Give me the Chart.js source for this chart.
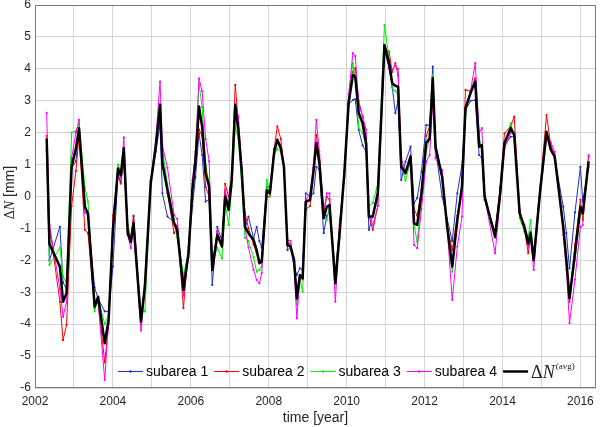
<!DOCTYPE html>
<html>
<head>
<meta charset="utf-8">
<script src="https://cdn.jsdelivr.net/npm/chart.js@4.4.1/dist/chart.umd.min.js"></script>
<style>
html,body{margin:0;padding:0;background:#fff;}
#wrap{width:600px;height:427px;position:relative;}
</style>
</head>
<body>
<div id="wrap"><canvas id="c" width="600" height="427"></canvas></div>
<script>
// ---- data (decimal years) ----
const years = [
 2002.30, 2002.37, 2002.64, 2002.72, 2002.81, 2002.94,
 2003.05, 2003.13, 2003.28, 2003.36, 2003.53, 2003.62, 2003.79, 2003.89,
 2004.00, 2004.13, 2004.20, 2004.28, 2004.38, 2004.46, 2004.53, 2004.72, 2004.82, 2004.97,
 2005.10, 2005.21, 2005.27, 2005.40, 2005.57, 2005.65, 2005.81, 2005.94,
 2006.04, 2006.12, 2006.21, 2006.29, 2006.38, 2006.47, 2006.55, 2006.68, 2006.80, 2006.88, 2006.97,
 2007.05, 2007.14, 2007.22, 2007.31, 2007.39, 2007.48, 2007.61, 2007.69, 2007.76, 2007.82, 2007.95,
 2008.03, 2008.14, 2008.22, 2008.31, 2008.39, 2008.48, 2008.56, 2008.65, 2008.72, 2008.80, 2008.87, 2008.95,
 2009.06, 2009.15, 2009.22, 2009.30, 2009.41, 2009.49, 2009.56, 2009.71, 2009.82, 2009.94,
 2010.05, 2010.16, 2010.22, 2010.31, 2010.41, 2010.50, 2010.57, 2010.67, 2010.80, 2010.97,
 2011.09, 2011.17, 2011.25, 2011.32, 2011.40, 2011.51, 2011.64, 2011.73, 2011.81, 2011.92,
 2012.04, 2012.13, 2012.21, 2012.28, 2012.45, 2012.58, 2012.71, 2012.84, 2012.96,
 2013.05, 2013.18, 2013.30, 2013.40, 2013.47, 2013.54, 2013.81, 2013.94,
 2014.05, 2014.21, 2014.30, 2014.44, 2014.56, 2014.66, 2014.72, 2014.80, 2014.96,
 2015.13, 2015.24, 2015.34, 2015.56, 2015.64, 2015.72, 2015.86,
 2016.00, 2016.06, 2016.21
];
const avgN = [
 1.82, -1.49, -2.20, -3.30, -3.03, 0.93,
 1.50, 2.14, -0.32, -0.53, -3.45, -3.14, -4.60, -3.87,
 -1.05, 0.88, 0.67, 1.51, -1.15, -1.42, -0.84, -3.92, -2.83, 0.41,
 1.56, 2.87, 1.04, 0.20, -0.84, -1.05, -2.93, -1.78,
 0.20, 1.14, 2.82, 2.19, 0.73, 0.31, -2.30, -1.21, -1.57, 0.00, -0.42,
 0.52, 2.87, 2.08, 0.73, -0.95, -1.15, -1.36, -1.68, -2.09, -2.04, 0.20,
 0.10, 1.40, 1.77, 1.51, 0.93, -1.52, -1.57, -1.99, -3.19, -2.46, -2.56, -0.16,
 -0.11, 0.80, 1.67, 1.04, -0.68, -0.32, -0.27, -2.72, -1.15, 0.73,
 2.92, 3.81, 3.76, 2.61, 2.29, 1.67, -0.63, -0.63, 0.10, 4.75,
 4.18, 3.55, 3.47, 3.44, 0.93, 0.73, 1.25, -0.84, -0.89, 0.10,
 1.67, 1.82, 3.71, 1.56, 0.62, -0.95, -2.20, -0.74, 0.31,
 2.77, 3.24, 3.60, 1.56, 1.61, 0.00, -1.26, 0.10,
 1.67, 2.14, 1.93, -0.53, -0.95, -1.47, -1.15, -1.99, 0.10,
 2.03, 1.46, 1.25, -0.95, -2.00, -3.19, -1.78,
 -0.32, -0.53, 1.09
];
const sub1 = [
 1.40, -2.00, -0.95, -2.70, -2.90, 0.90,
 1.10, 2.10, -0.30, -0.60, -2.85, -3.20, -3.60, -3.60,
 -2.20, 0.70, 0.45, 1.00, -1.05, -1.30, -0.63, -3.80, -2.80, 0.50,
 1.40, 2.24, 0.10, -0.63, -0.80, -1.00, -2.60, -1.70,
 -0.30, 0.60, 1.98, 1.30, -0.16, -0.10, -2.77, -0.95, -1.40, 0.10, -0.30,
 0.60, 2.80, 2.00, 0.60, -1.00, -0.63, -1.31, -0.95, -1.40, -1.60, 0.30,
 0.30, 1.50, 1.70, 1.50, 0.90, -1.68, -1.60, -2.20, -2.46, -2.25, -2.30, 0.10,
 0.00, 0.10, 0.93, 0.85, -1.15, -0.60, -0.50, -2.40, -0.90, 0.60,
 2.90, 3.02, 3.05, 2.08, 1.60, 1.40, -1.05, -0.60, 0.20, 4.60,
 4.00, 3.44, 2.61, 3.00, 0.52, 1.09, 1.56, -0.21, -0.05, 0.78,
 2.24, 2.24, 4.07, 1.50, 0.00, -0.70, -1.40, 0.10, 0.99,
 2.70, 3.00, 3.02, 1.30, 1.20, -0.10, -1.10, 0.20,
 1.60, 1.87, 1.90, -0.50, -0.90, -1.30, -1.10, -1.80, 0.10,
 2.00, 1.50, 1.20, -0.32, -1.15, -2.25, -0.50,
 0.93, -0.16, 0.93
];
const sub2 = [
 1.90, -0.90, -3.30, -4.50, -4.03, -0.30,
 0.80, 1.90, -1.05, -1.15, -3.50, -3.30, -5.20, -4.00,
 -0.60, 0.70, 0.40, 1.40, -0.90, -1.30, -0.60, -4.00, -2.60, 0.45,
 1.60, 2.90, 1.20, 0.10, -1.15, -0.90, -3.50, -1.60,
 0.40, 1.00, 2.10, 1.90, 0.30, 0.00, -2.20, -1.10, -1.50, 0.40, 0.00,
 0.70, 3.50, 2.30, 0.70, -0.50, -1.00, -1.50, -1.80, -2.00, -2.00, 0.00,
 0.00, 1.50, 2.20, 1.80, 0.90, -1.45, -1.50, -2.00, -3.10, -2.50, -2.60, -0.40,
 -0.30, 0.90, 1.93, 1.30, -0.50, 0.00, -0.10, -2.60, -0.90, 0.70,
 3.00, 3.90, 4.02, 3.00, 2.50, 1.80, -0.60, -1.05, -0.30, 4.60,
 4.54, 3.90, 4.18, 3.80, 1.00, 0.80, 1.20, -0.40, -0.60, 0.20,
 1.90, 2.20, 3.60, 1.60, 0.60, -0.90, -1.68, -0.60, 0.30,
 3.34, 3.30, 3.70, 1.70, 1.60, 0.00, -1.20, 0.30,
 1.98, 2.20, 2.50, -0.40, -1.00, -1.78, -1.30, -2.00, 0.20,
 2.55, 1.60, 1.30, -1.00, -2.00, -3.30, -1.50,
 -0.10, -0.74, 1.25
];
const sub3 = [
 1.50, -2.15, -1.60, -2.50, -2.70, 2.00,
 2.05, 2.30, 0.30, -0.16, -3.60, -3.20, -4.00, -3.70,
 -1.00, 1.00, 0.80, 1.50, -1.00, -1.40, -0.90, -3.60, -3.60, 0.30,
 1.50, 2.90, 1.50, 0.40, -0.70, -1.30, -2.45, -1.80,
 0.10, 1.40, 3.55, 2.80, 1.00, 0.40, -2.10, -1.60, -1.94, -0.20, -0.89,
 0.30, 2.20, 1.80, 0.30, -1.30, -1.40, -1.90, -2.36, -2.30, -2.20, 0.52,
 0.00, 1.30, 1.50, 1.40, 0.90, -1.50, -1.60, -2.00, -3.40, -2.60, -2.98, -0.20,
 -0.10, 0.90, 1.70, 1.10, -0.60, -0.74, -0.30, -2.60, -1.30, 0.80,
 3.00, 4.18, 3.70, 2.14, 2.00, 1.50, -0.30, -0.20, 0.41, 5.38,
 4.30, 3.40, 3.30, 3.20, 1.00, 0.50, 1.10, -0.90, -1.42, -0.10,
 1.40, 1.80, 3.80, 1.70, 0.60, -0.90, -2.36, -0.80, 0.30,
 2.60, 3.30, 3.60, 1.90, 1.40, 0.10, -1.30, 0.10,
 1.60, 2.30, 1.90, -0.68, -1.10, -1.30, -0.74, -2.00, 0.30,
 2.00, 1.50, 1.20, -1.00, -2.00, -3.20, -2.00,
 -0.50, -0.50, 1.10
];
const sub4 = [
 2.62, -0.90, -2.90, -3.77, -3.30, 1.20,
 2.00, 2.40, -0.50, -0.60, -3.30, -3.30, -5.75, -3.90,
 -0.80, 0.80, 0.60, 1.85, -1.20, -1.62, -1.00, -4.20, -2.90, 0.50,
 1.80, 3.60, 1.60, 0.90, -0.58, -0.70, -3.10, -1.90,
 0.50, 1.40, 3.70, 3.30, 1.80, 1.10, -2.10, -1.10, -1.50, 0.20, -0.30,
 0.60, 2.90, 2.50, 0.90, -1.00, -1.60, -2.30, -2.62, -2.72, -2.40, 0.20,
 0.10, 1.40, 1.80, 1.60, 0.90, -1.36, -1.40, -2.20, -3.82, -2.60, -2.50, -0.10,
 0.10, 1.00, 2.40, 1.40, -0.50, 0.10, 0.10, -3.30, -0.80, 0.80,
 3.20, 4.49, 4.40, 2.90, 2.50, 2.10, -0.50, -0.90, -0.30, 4.70,
 4.20, 3.97, 4.10, 4.00, 1.20, 0.80, 1.30, -1.52, -1.62, -0.40,
 1.09, 1.30, 3.00, 1.20, 0.83, -1.00, -3.24, -1.57, -0.63,
 2.80, 3.30, 4.18, 2.00, 2.14, 0.00, -1.78, -0.10,
 1.50, 2.00, 2.00, -0.50, -0.90, -1.60, -1.20, -2.30, 0.00,
 1.80, 1.70, 1.40, -1.20, -2.30, -3.97, -2.60,
 -0.95, -0.90, 1.30
];
const seriesLabels = ['subarea 1', 'subarea 2', 'subarea 3', 'subarea 4', 'ΔN(avg)'];
const xTickLabels = [2002, 2004, 2006, 2008, 2010, 2012, 2014, 2016];
const yTickValues = [-6, -5, -4, -3, -2, -1, 0, 1, 2, 3, 4, 5, 6];

const pts = arr => arr.map((v, i) => ({x: years[i], y: v}));
const SANS = '"Liberation Sans", Arial, Helvetica, sans-serif';
const SERIF = '"Liberation Serif", "Times New Roman", serif';
const colors = ['#1c2fd0', '#ff0000', '#00ee00', '#ff00ff', '#000000'];

function sub(label, data, color, order) {
  return {label, data: pts(data), borderColor: color, backgroundColor: color,
    borderWidth: 1, pointRadius: 1.1, pointBorderWidth: 0, pointBackgroundColor: color,
    tension: 0, fill: false, order};
}
const datasets = [
  {label: seriesLabels[4], data: pts(avgN), borderColor: '#000', borderWidth: 2.5,
   pointRadius: 0, tension: 0, fill: false, order: 0, borderJoinStyle: 'round'},
  sub(seriesLabels[3], sub4, colors[3], 1),
  sub(seriesLabels[2], sub3, colors[2], 2),
  sub(seriesLabels[1], sub2, colors[1], 3),
  sub(seriesLabels[0], sub1, colors[0], 4)
];

const decor = {
  id: 'decor',
  afterDatasetsDraw(chart) {
    const ctx = chart.ctx, a = chart.chartArea;
    ctx.save();
    ctx.strokeStyle = '#7a7a7a';
    ctx.lineWidth = 1;
    ctx.strokeRect(Math.round(a.left) + 0.5, Math.round(a.top) + 0.5,
                   Math.round(a.right - a.left) - 1, Math.round(a.bottom - a.top) - 1);
    const ly = a.bottom - 16.5;
    let x = 118;
    ctx.textBaseline = 'middle';
    for (let i = 0; i < 5; i++) {
      const c = colors[i];
      ctx.strokeStyle = c;
      ctx.lineWidth = i === 4 ? 2.5 : 1;
      ctx.beginPath(); ctx.moveTo(x, ly); ctx.lineTo(x + 25, ly); ctx.stroke();
      if (i < 4) {
        ctx.fillStyle = c;
        ctx.beginPath(); ctx.arc(x + 12.5, ly, 1.2, 0, Math.PI * 2); ctx.fill();
        ctx.fillStyle = '#000';
        ctx.font = 'normal 14px ' + SANS;
        ctx.textAlign = 'left';
        ctx.fillText(seriesLabels[i], x + 28, ly + 1);
        x += 28 + ctx.measureText(seriesLabels[i]).width + 6;
      } else {
        let tx = x + 28;
        ctx.fillStyle = '#222';
        ctx.font = '18px ' + SERIF;
        ctx.fillText('Δ', tx, ly + 2);
        tx += ctx.measureText('Δ').width;
        ctx.font = 'italic 18px ' + SERIF;
        ctx.fillText('N', tx, ly + 2);
        tx += ctx.measureText('N').width + 1;
        ctx.font = '9px ' + SERIF;
        ctx.fillText('(avg)', tx, ly - 5);
      }
    }
    ctx.restore();
  },
  afterDraw(chart) {
    const ctx = chart.ctx, a = chart.chartArea;
    ctx.save();
    ctx.translate(10, (a.top + a.bottom) / 2 - 4);
    ctx.rotate(-Math.PI / 2);
    ctx.textBaseline = 'middle';
    ctx.fillStyle = '#262626';
    const parts = [['Δ', '14px ' + SERIF], ['N', 'italic 14px ' + SERIF], [' [mm]', '14px ' + SANS]];
    let w = 0;
    for (const [t, f] of parts) { ctx.font = f; w += ctx.measureText(t).width; }
    let x = -w / 2;
    for (const [t, f] of parts) { ctx.font = f; ctx.fillText(t, x, 0); x += ctx.measureText(t).width; }
    ctx.restore();
  }
};

new Chart(document.getElementById('c'), {
  type: 'line',
  data: {datasets},
  options: {
    responsive: false,
    animation: false,
    layout: {padding: {top: 5, right: 2, left: 0, bottom: 0}},
    plugins: {legend: {display: false}, tooltip: {enabled: false}},
    scales: {
      x: {
        type: 'linear', min: 2002, max: 2016.4,
        border: {display: false},
        grid: {color: '#d4d4d4', lineWidth: 1, drawTicks: false},
        ticks: {stepSize: 1, includeBounds: false, padding: 6, maxRotation: 0, autoSkip: false,
          color: '#262626', font: {family: SANS, size: 12, weight: 'normal'},
          callback: v => xTickLabels.includes(v) ? String(v) : ''},
        title: {display: true, text: 'time [year]', color: '#262626',
          font: {family: SANS, size: 14, weight: 'normal'}, padding: {top: 2, bottom: 0}},
        afterFit: s => { s.height = 39; s.paddingLeft = 0; s.paddingRight = 0; }
      },
      y: {
        type: 'linear', min: -6, max: 6,
        border: {display: false},
        grid: {color: '#d4d4d4', lineWidth: 1, drawTicks: false},
        afterBuildTicks: s => { s.ticks = yTickValues.map(v => ({value: v})); },
        ticks: {padding: 4, color: '#262626', font: {family: SANS, size: 12, weight: 'normal'}},
        afterFit: s => { s.width = 35; s.paddingTop = 0; s.paddingBottom = 0; }
      }
    }
  },
  plugins: [decor]
});
</script>
</body>
</html>
